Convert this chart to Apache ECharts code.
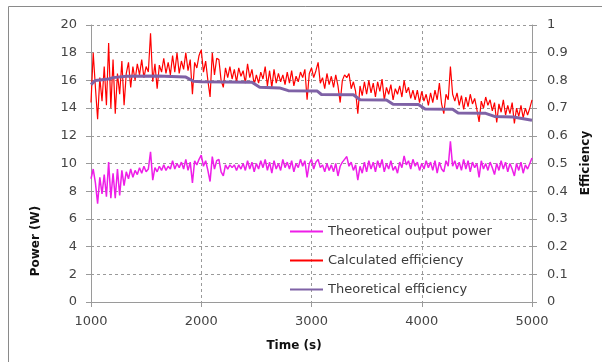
<!DOCTYPE html>
<html>
<head>
<meta charset="utf-8">
<script src="https://cdn.jsdelivr.net/npm/echarts@6/dist/echarts.min.js"></script>
<style>
  html, body { margin: 0; padding: 0; background: #fff; }
  #chart { width: 602px; height: 362px; }
</style>
</head>
<body>
<div id="chart"></div>
<script>
// sampling: one reading every 20 s from 1000 s to 5000 s
const T_START = 1000
const T_STEP = 20

// Theoretical output power (W), left axis
const outputPower = [
  8.9, 9.6, 8.6, 7.1, 9.0, 7.8, 9.2, 7.6, 10.1, 7.5,
  9.3, 7.5, 9.6, 7.7, 9.5, 8.4, 9.4, 8.9, 9.6, 9.0,
  9.5, 9.2, 9.7, 9.3, 9.8, 9.4, 9.6, 10.85, 8.8, 9.7,
  9.4, 9.8, 9.5, 9.9, 9.5, 9.8, 9.6, 10.2, 9.6, 10.0,
  9.7, 10.1, 9.6, 10.3, 9.5, 10.1, 8.6, 10.2, 9.9, 10.3,
  10.6, 9.8, 10.2, 9.5, 8.7, 10.5, 9.6, 10.2, 10.3, 9.4,
  9.1, 9.9, 9.6, 9.9, 9.7, 9.9, 9.5, 9.9, 9.6, 10.0,
  9.5, 10.2, 9.6, 10.1, 9.4, 10.0, 9.6, 10.2, 9.7, 10.3,
  9.5, 10.1, 9.3, 10.2, 9.6, 10.0, 9.5, 10.3, 9.7, 10.1,
  9.6, 10.2, 9.4, 10.0, 9.7, 10.3, 9.8, 10.2, 9.0, 10.0,
  10.3, 9.6, 10.1, 10.3, 9.7, 9.9, 9.4, 10.0, 9.5, 9.9,
  9.4, 10.0, 9.1, 9.8, 10.1, 10.3, 10.5, 9.8, 10.1, 9.5,
  9.9, 8.8, 9.8, 9.3, 10.1, 9.4, 10.2, 9.6, 10.1, 9.4,
  10.2, 9.7, 10.3, 9.4, 10.0, 9.6, 10.2, 9.5, 9.8, 9.3,
  10.1, 9.7, 10.55, 9.9, 10.2, 9.6, 10.3, 9.8, 10.1, 9.5,
  10.0, 9.6, 10.2, 9.7, 10.1, 9.5, 10.2, 9.3, 10.1, 9.6,
  9.4, 10.2, 9.8, 11.6, 9.8, 10.2, 9.6, 10.1, 9.5, 10.3,
  9.6, 10.2, 9.4, 10.1, 9.7, 10.0, 9.0, 10.2, 9.6, 10.0,
  9.5, 10.1, 9.7, 9.2, 10.0, 9.5, 10.2, 9.6, 10.1, 9.4,
  10.0, 9.6, 9.1, 10.0, 9.5, 10.1, 9.3, 9.9, 9.6, 10.0,
  10.4
]

// Calculated efficiency, right axis
const calcEfficiency = [
  0.720, 0.900, 0.775, 0.660, 0.810, 0.725, 0.850, 0.710, 0.935, 0.700,
  0.875, 0.680, 0.825, 0.750, 0.870, 0.710, 0.825, 0.865, 0.775, 0.850,
  0.800, 0.860, 0.820, 0.875, 0.810, 0.850, 0.830, 0.970, 0.795, 0.860,
  0.770, 0.855, 0.830, 0.880, 0.825, 0.865, 0.820, 0.890, 0.830, 0.900,
  0.825, 0.870, 0.840, 0.900, 0.835, 0.875, 0.750, 0.865, 0.845, 0.890,
  0.910, 0.830, 0.870, 0.800, 0.740, 0.900, 0.820, 0.880, 0.875, 0.800,
  0.775, 0.845, 0.810, 0.850, 0.805, 0.840, 0.795, 0.845, 0.815, 0.835,
  0.790, 0.860, 0.810, 0.840, 0.785, 0.820, 0.790, 0.830, 0.805, 0.850,
  0.780, 0.835, 0.775, 0.840, 0.790, 0.825, 0.795, 0.820, 0.785, 0.830,
  0.790, 0.835, 0.780, 0.815, 0.795, 0.830, 0.810, 0.840, 0.730, 0.825,
  0.845, 0.810, 0.835, 0.865, 0.790, 0.810, 0.770, 0.825, 0.785, 0.815,
  0.775, 0.820, 0.780, 0.720, 0.800, 0.820, 0.810, 0.825, 0.770, 0.795,
  0.760, 0.680, 0.780, 0.745, 0.795, 0.750, 0.800, 0.755, 0.790, 0.740,
  0.795, 0.760, 0.805, 0.730, 0.775, 0.750, 0.785, 0.730, 0.770, 0.750,
  0.780, 0.740, 0.800, 0.755, 0.775, 0.735, 0.765, 0.730, 0.765, 0.720,
  0.760, 0.725, 0.750, 0.710, 0.755, 0.720, 0.765, 0.730, 0.790, 0.715,
  0.680, 0.750, 0.730, 0.850, 0.750, 0.725, 0.755, 0.710, 0.745, 0.695,
  0.740, 0.705, 0.750, 0.715, 0.735, 0.695, 0.650, 0.725, 0.700, 0.740,
  0.710, 0.730, 0.690, 0.720, 0.648, 0.715, 0.685, 0.730, 0.675, 0.710,
  0.680, 0.720, 0.645, 0.700, 0.670, 0.710, 0.665, 0.700, 0.675, 0.700,
  0.730
]

// Theoretical efficiency: stepped curve, [time, efficiency]
const theoEfficiency = [
  [1000, 0.785], [1040, 0.800], [1160, 0.805], [1200, 0.810], [1320, 0.815],
  [1600, 0.816], [1860, 0.812], [1930, 0.797], [2000, 0.795], [2460, 0.793],
  [2530, 0.775], [2710, 0.773], [2790, 0.763], [3050, 0.762], [3090, 0.749],
  [3380, 0.748], [3440, 0.730], [3680, 0.729], [3740, 0.714], [3970, 0.713],
  [4030, 0.697], [4280, 0.696], [4330, 0.682], [4580, 0.681], [4660, 0.670],
  [4830, 0.668], [5000, 0.656]
]

const seriesNames = ['Theoretical output power', 'Calculated efficiency', 'Theoretical efficiency']

const withTime = (vals) => vals.map((v, i) => [T_START + i * T_STEP, v])

const FONT = '"DejaVu Sans", "Noto Sans", sans-serif'
const labelStyle = { color: '#444', fontSize: 13, fontFamily: FONT }
const gridLine = { show: true, lineStyle: { color: '#9a9a9a', type: [3, 3], width: 1 } }
const axisGrey = { show: true, lineStyle: { color: '#9a9a9a', width: 1 } }
const tickGrey = { show: true, length: 5, lineStyle: { color: '#9a9a9a' } }

const chart = echarts.init(document.getElementById('chart'), null, { renderer: 'canvas' })

chart.setOption({
  backgroundColor: '#fff',
  animation: false,
  grid: { left: 91, right: 70, top: 25, bottom: 60 },
  legend: {
    orient: 'vertical',
    left: 289,
    top: 225,
    padding: 0,
    itemWidth: 33,
    itemHeight: 14,
    itemGap: 16,
    itemStyle: { opacity: 0 },
    data: seriesNames,
    textStyle: { color: '#3a3a3a', fontSize: 13, fontFamily: FONT },
  },
  xAxis: {
    type: 'value',
    min: 1000,
    max: 5000,
    interval: 1000,
    axisLine: axisGrey,
    axisTick: tickGrey,
    axisLabel: { ...labelStyle, margin: 13, formatter: (v) => String(v) },
    splitLine: gridLine,
  },
  yAxis: [
    {
      type: 'value',
      min: 0,
      max: 20,
      interval: 2,
      axisLine: axisGrey,
      axisTick: tickGrey,
      axisLabel: { ...labelStyle, margin: 14 },
      splitLine: gridLine,
    },
    {
      type: 'value',
      min: 0,
      max: 1,
      interval: 0.1,
      axisLine: axisGrey,
      axisTick: tickGrey,
      axisLabel: { ...labelStyle, margin: 15 },
      splitLine: { show: false },
    },
  ],
  graphic: [
    {
      type: 'rect',
      silent: true,
      shape: { x: 8.5, y: 6.5, width: 800, height: 600 },
      style: { fill: 'none', stroke: '#8a8a8a', lineWidth: 1 },
    },
    {
      type: 'text',
      x: 36,
      y: 241,
      rotation: Math.PI / 2,
      style: { text: 'Power (W)', align: 'center', verticalAlign: 'middle', fill: '#111', font: `bold 12px ${FONT}` },
    },
    {
      type: 'text',
      x: 586,
      y: 163,
      rotation: Math.PI / 2,
      style: { text: 'Efficiency', align: 'center', verticalAlign: 'middle', fill: '#111', font: `bold 12px ${FONT}` },
    },
    {
      type: 'text',
      x: 294,
      y: 346,
      style: { text: 'Time (s)', align: 'center', verticalAlign: 'middle', fill: '#111', font: `bold 12px ${FONT}` },
    },
  ],
  series: [
    {
      name: seriesNames[0],
      type: 'line',
      yAxisIndex: 0,
      data: withTime(outputPower),
      symbol: 'none',
      lineStyle: { color: '#ee1ee8', width: 1.5 },
      itemStyle: { color: '#ee1ee8' },
      z: 2,
    },
    {
      name: seriesNames[1],
      type: 'line',
      yAxisIndex: 1,
      data: withTime(calcEfficiency),
      symbol: 'none',
      lineStyle: { color: '#ff0000', width: 1.2 },
      itemStyle: { color: '#ff0000' },
      z: 3,
    },
    {
      name: seriesNames[2],
      type: 'line',
      yAxisIndex: 1,
      data: theoEfficiency,
      symbol: 'none',
      lineStyle: { color: '#7f62a6', width: 3 },
      itemStyle: { color: '#7f62a6' },
      z: 4,
    },
  ],
})
</script>
</body>
</html>
